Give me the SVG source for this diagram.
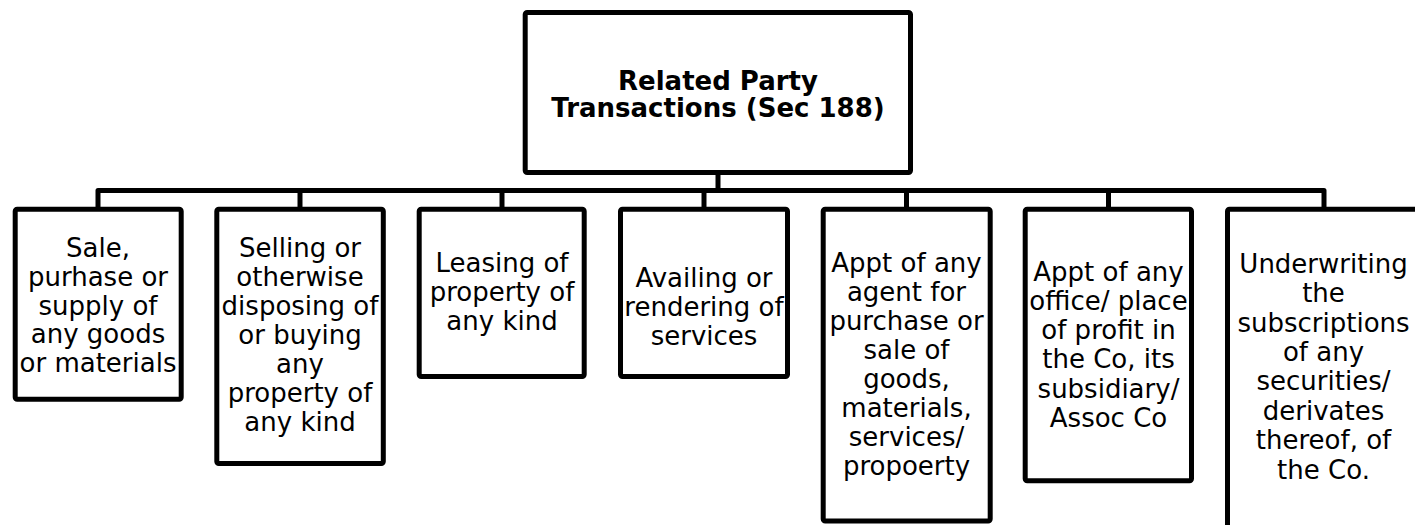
<svg xmlns="http://www.w3.org/2000/svg" width="1415" height="525" viewBox="0 0 1415 525">
  <style>
    .box { fill: #ffffff; stroke: #000000; stroke-width: 5; }
    .wire { fill: none; stroke: #000000; stroke-width: 5; stroke-linejoin: round; }
    .t { font-family: "DejaVu Sans", Verdana, sans-serif; font-size: 26px; fill: #000000; text-anchor: middle; }
    .title { font-weight: bold; }
  </style>
  <rect width="1415" height="525" fill="#ffffff"/>

  <g id="connectors">
    <path class="wire" d="M718,175 V190.5"/>
    <path class="wire" d="M98,207 V190.5 H1324 V207"/>
    <path class="wire" d="M300,190.5 V207"/>
    <path class="wire" d="M502,190.5 V207"/>
    <path class="wire" d="M704,190.5 V207"/>
    <path class="wire" d="M906.5,190.5 V207"/>
    <path class="wire" d="M1108.5,190.5 V207"/>
  </g>

  <g id="root">
    <rect class="box" x="525.2" y="12.5" width="385.3" height="160" rx="2"/>
    <text class="t title" x="718" y="89.5">Related Party</text>
    <text class="t title" x="718" y="117">Transactions (Sec 188)</text>
  </g>

  <g id="n1">
    <rect class="box" x="15.2" y="209.2" width="166" height="190" rx="2"/>
    <text class="t" x="98" y="257">Sale,</text>
    <text class="t" x="98" y="286">purhase or</text>
    <text class="t" x="98" y="314.5">supply of</text>
    <text class="t" x="98" y="343">any goods</text>
    <text class="t" x="98" y="372">or materials</text>
  </g>

  <g id="n2">
    <rect class="box" x="216.8" y="209.2" width="166.5" height="254.3" rx="2"/>
    <text class="t" x="300" y="257">Selling or</text>
    <text class="t" x="300" y="286">otherwise</text>
    <text class="t" x="300" y="315">disposing of</text>
    <text class="t" x="300" y="344">or buying</text>
    <text class="t" x="300" y="373">any</text>
    <text class="t" x="300" y="402">property of</text>
    <text class="t" x="300" y="431">any kind</text>
  </g>

  <g id="n3">
    <rect class="box" x="419.2" y="209.2" width="165" height="167.3" rx="2"/>
    <text class="t" x="502" y="272.3">Leasing of</text>
    <text class="t" x="502" y="301">property of</text>
    <text class="t" x="502" y="329.5">any kind</text>
  </g>

  <g id="n4">
    <rect class="box" x="620.5" y="209.2" width="167" height="167.3" rx="2"/>
    <text class="t" x="704" y="286.5">Availing or</text>
    <text class="t" x="704" y="315.5">rendering of</text>
    <text class="t" x="704" y="344.5">services</text>
  </g>

  <g id="n5">
    <rect class="box" x="823.2" y="209.2" width="167" height="311.8" rx="2"/>
    <text class="t" x="906.5" y="271.7">Appt of any</text>
    <text class="t" x="906.5" y="300.7">agent for</text>
    <text class="t" x="906.5" y="329.7">purchase or</text>
    <text class="t" x="906.5" y="358.7">sale of</text>
    <text class="t" x="906.5" y="387.7">goods,</text>
    <text class="t" x="906.5" y="416.7">materials,</text>
    <text class="t" x="906.5" y="445.7">services/</text>
    <text class="t" x="906.5" y="474.5">propoerty</text>
  </g>

  <g id="n6">
    <rect class="box" x="1025.2" y="209.2" width="166.3" height="271.6" rx="2"/>
    <text class="t" x="1108.5" y="280.5">Appt of any</text>
    <text class="t" x="1108.5" y="309.8">office/ place</text>
    <text class="t" x="1108.5" y="339.1">of profit in</text>
    <text class="t" x="1108.5" y="368.4">the Co, its</text>
    <text class="t" x="1108.5" y="397.7">subsidiary/</text>
    <text class="t" x="1108.5" y="427">Assoc Co</text>
  </g>

  <g id="n7">
    <rect class="box" x="1227.5" y="209.2" width="192" height="340" rx="2"/>
    <text class="t" x="1323.5" y="272.7">Underwriting</text>
    <text class="t" x="1323.5" y="302.1">the</text>
    <text class="t" x="1323.5" y="331.5">subscriptions</text>
    <text class="t" x="1323.5" y="360.9">of any</text>
    <text class="t" x="1323.5" y="390.3">securities/</text>
    <text class="t" x="1323.5" y="419.7">derivates</text>
    <text class="t" x="1323.5" y="449.1">thereof, of</text>
    <text class="t" x="1323.5" y="478.5">the Co.</text>
  </g>
</svg>
